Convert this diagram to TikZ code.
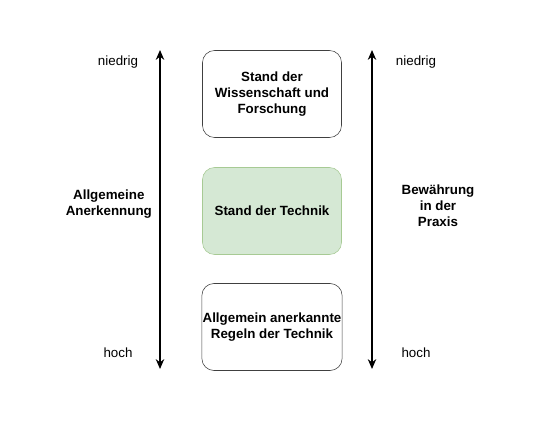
\documentclass[tikz,border=0pt]{standalone}
\usepackage{fontspec}
\setmainfont{Liberation Sans}
\usetikzlibrary{arrows.meta,positioning}
\definecolor{boxgreen}{HTML}{D5E8D4}
\definecolor{edgegreen}{HTML}{82B366}

\begin{document}
\begin{tikzpicture}[
    font=\fontsize{9.5}{11.4}\selectfont,
    level/.style={draw=black!75, rectangle, rounded corners=0.3cm, minimum width=3.475cm, minimum height=2.175cm, inner xsep=0.5pt, align=center, font=\fontsize{9.5}{11.4}\selectfont\bfseries},
    scalearrow/.style={{Stealth[length=7pt,width=6pt]}-{Stealth[length=7pt,width=6pt]}, line width=1.1pt, black},
    axislabel/.style={align=center, font=\fontsize{9.5}{11.4}\selectfont\bfseries}
]
\useasboundingbox (0,0) rectangle (14,10.5);

% Levels
\node[level] (Wiss) at (6.8,8.15) {Stand der\\Wissenschaft und\\Forschung};
\node[level, fill=boxgreen, draw=edgegreen!70] (Tech) at (6.8,5.225) {Stand der Technik};
\node[level] (Regeln) at (6.8,2.325) {Allgemein anerkannte\\Regeln der Technik};

% Arrows
\coordinate (Ltop) at (4.0,9.25);
\coordinate (Lbot) at (4.0,1.275);
\coordinate (Rtop) at (9.3,9.25);
\coordinate (Rbot) at (9.3,1.275);
\draw[scalearrow] (Lbot) -- (Ltop);
\draw[scalearrow] (Rbot) -- (Rtop);

% Labels
\node (Lniedrig) at (2.95,8.95) {niedrig};
\node (Lhoch) at (2.95,1.675) {hoch};
\node (Rniedrig) at (10.4,8.95) {niedrig};
\node (Rhoch) at (10.4,1.675) {hoch};
\node[axislabel] (Anerkennung) at (2.72,5.4) {Allgemeine\\Anerkennung};
\node[axislabel] (Praxis) at (10.95,5.35) {Bewährung\\in der\\Praxis};
\end{tikzpicture}
\end{document}
